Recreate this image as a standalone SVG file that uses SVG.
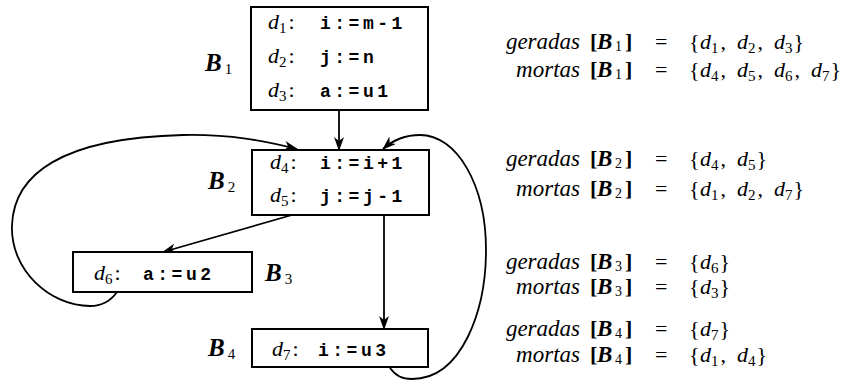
<svg xmlns="http://www.w3.org/2000/svg" width="850" height="384" viewBox="0 0 850 384">
<style>
.box{fill:#fff;stroke:#000;stroke-width:2}
.edge{fill:none;stroke:#000;stroke-width:1.8}
text{font-family:"Liberation Serif","Times New Roman",serif;fill:#000}
.it{font-style:italic;font-size:22px}
.nm{font-style:italic;font-size:23px}
.bi{font-style:italic;font-weight:bold;font-size:25px}
.bs{font-style:italic;font-weight:bold;font-size:23px}
.rm{font-style:normal;font-weight:normal;font-size:22px}
.sub{font-style:normal;font-weight:normal;font-size:15px}
.ss{font-style:normal;font-weight:normal;font-size:14px}
.bk{font-style:normal;font-weight:bold;font-size:22px}
.mono{font-family:"Liberation Mono","Courier New",monospace;font-weight:bold;font-size:18px;letter-spacing:3.5px}
</style>
<defs>
<marker id="ah" viewBox="0 0 14 10" refX="13" refY="5" markerWidth="14" markerHeight="10" markerUnits="userSpaceOnUse" orient="auto">
<path d="M0,0 L14,5 L0,10 L4,5 z" fill="#000"/>
</marker>
</defs>

<g id="connectors">
<path class="edge" d="M339,110 L339,150" marker-end="url(#ah)"/>
<path class="edge" d="M292,215 L163,252" marker-end="url(#ah)"/>
<path class="edge" d="M384,215 L384,329" marker-end="url(#ah)"/>
<path class="edge" d="M117,292 C110,302 100,306 90,306 C50,306 10,270 12,225 C14,175 60,138 183,135 C230,134 265,141 297,149" marker-end="url(#ah)"/>
<path class="edge" d="M390,368 C396,376 402,379 412,379 C462,379 486,310 486,250 C486,185 457,135 420,135 C405,135 393,140 383,149" marker-end="url(#ah)"/>
</g>

<g id="B1">
<rect class="box" x="251" y="7" width="177" height="103"/>
<text class="bi" x="205" y="71">B<tspan class="sub" dx="3" dy="3">1</tspan></text>
<text class="it" x="268" y="29">d<tspan class="sub" dy="4">1</tspan><tspan class="rm" dy="-4" dx="2">:</tspan></text>
<text class="mono" x="320" y="29">i:=m-1</text>
<text class="it" x="268" y="63">d<tspan class="sub" dy="4">2</tspan><tspan class="rm" dy="-4" dx="2">:</tspan></text>
<text class="mono" x="320" y="63">j:=n</text>
<text class="it" x="268" y="97">d<tspan class="sub" dy="4">3</tspan><tspan class="rm" dy="-4" dx="2">:</tspan></text>
<text class="mono" x="320" y="97">a:=u1</text>
</g>

<g id="B2">
<rect class="box" x="252" y="150" width="177" height="65"/>
<text class="bi" x="208" y="189">B<tspan class="sub" dx="3" dy="3">2</tspan></text>
<text class="it" x="270" y="169">d<tspan class="sub" dy="4">4</tspan><tspan class="rm" dy="-4" dx="2">:</tspan></text>
<text class="mono" x="320" y="169">i:=i+1</text>
<text class="it" x="270" y="202">d<tspan class="sub" dy="4">5</tspan><tspan class="rm" dy="-4" dx="2">:</tspan></text>
<text class="mono" x="320" y="202">j:=j-1</text>
</g>

<g id="B3">
<rect class="box" x="73" y="252" width="179" height="40"/>
<text class="bi" x="265" y="281">B<tspan class="sub" dx="3" dy="3">3</tspan></text>
<text class="it" x="94" y="280">d<tspan class="sub" dy="4">6</tspan><tspan class="rm" dy="-4" dx="2">:</tspan></text>
<text class="mono" x="143" y="280">a:=u2</text>
</g>

<g id="B4">
<rect class="box" x="252" y="329" width="176" height="38"/>
<text class="bi" x="208" y="356">B<tspan class="sub" dx="3" dy="3">4</tspan></text>
<text class="it" x="272" y="356">d<tspan class="sub" dy="4">7</tspan><tspan class="rm" dy="-4" dx="2">:</tspan></text>
<text class="mono" x="318" y="356">i:=u3</text>
</g>

<g id="sets">
<text class="nm" x="580" y="49" text-anchor="end">geradas</text>
<text class="rm" y="49"><tspan class="bk" x="590">[</tspan><tspan class="bs" x="597">B</tspan><tspan class="ss" x="615" dy="2">1</tspan><tspan class="bk" x="625" dy="-2">]</tspan><tspan x="655">=</tspan><tspan x="689">{</tspan><tspan class="it" x="700">d</tspan><tspan class="sub" dy="4">1</tspan><tspan dy="-4" dx="2">,</tspan><tspan class="it" x="737">d</tspan><tspan class="sub" dy="4">2</tspan><tspan dy="-4" dx="2">,</tspan><tspan class="it" x="774">d</tspan><tspan class="sub" dy="4">3</tspan><tspan dy="-4" dx="1">}</tspan></text>

<text class="nm" x="580" y="77" text-anchor="end">mortas</text>
<text class="rm" y="77"><tspan class="bk" x="590">[</tspan><tspan class="bs" x="597">B</tspan><tspan class="ss" x="615" dy="2">1</tspan><tspan class="bk" x="625" dy="-2">]</tspan><tspan x="655">=</tspan><tspan x="689">{</tspan><tspan class="it" x="700">d</tspan><tspan class="sub" dy="4">4</tspan><tspan dy="-4" dx="2">,</tspan><tspan class="it" x="737">d</tspan><tspan class="sub" dy="4">5</tspan><tspan dy="-4" dx="2">,</tspan><tspan class="it" x="774">d</tspan><tspan class="sub" dy="4">6</tspan><tspan dy="-4" dx="2">,</tspan><tspan class="it" x="811">d</tspan><tspan class="sub" dy="4">7</tspan><tspan dy="-4" dx="1">}</tspan></text>

<text class="nm" x="580" y="166" text-anchor="end">geradas</text>
<text class="rm" y="166"><tspan class="bk" x="590">[</tspan><tspan class="bs" x="597">B</tspan><tspan class="ss" x="615" dy="2">2</tspan><tspan class="bk" x="625" dy="-2">]</tspan><tspan x="655">=</tspan><tspan x="689">{</tspan><tspan class="it" x="700">d</tspan><tspan class="sub" dy="4">4</tspan><tspan dy="-4" dx="2">,</tspan><tspan class="it" x="737">d</tspan><tspan class="sub" dy="4">5</tspan><tspan dy="-4" dx="1">}</tspan></text>

<text class="nm" x="580" y="196" text-anchor="end">mortas</text>
<text class="rm" y="196"><tspan class="bk" x="590">[</tspan><tspan class="bs" x="597">B</tspan><tspan class="ss" x="615" dy="2">2</tspan><tspan class="bk" x="625" dy="-2">]</tspan><tspan x="655">=</tspan><tspan x="689">{</tspan><tspan class="it" x="700">d</tspan><tspan class="sub" dy="4">1</tspan><tspan dy="-4" dx="2">,</tspan><tspan class="it" x="737">d</tspan><tspan class="sub" dy="4">2</tspan><tspan dy="-4" dx="2">,</tspan><tspan class="it" x="774">d</tspan><tspan class="sub" dy="4">7</tspan><tspan dy="-4" dx="1">}</tspan></text>

<text class="nm" x="580" y="269" text-anchor="end">geradas</text>
<text class="rm" y="269"><tspan class="bk" x="590">[</tspan><tspan class="bs" x="597">B</tspan><tspan class="ss" x="615" dy="2">3</tspan><tspan class="bk" x="625" dy="-2">]</tspan><tspan x="655">=</tspan><tspan x="689">{</tspan><tspan class="it" x="700">d</tspan><tspan class="sub" dy="4">6</tspan><tspan dy="-4" dx="1">}</tspan></text>

<text class="nm" x="580" y="294" text-anchor="end">mortas</text>
<text class="rm" y="294"><tspan class="bk" x="590">[</tspan><tspan class="bs" x="597">B</tspan><tspan class="ss" x="615" dy="2">3</tspan><tspan class="bk" x="625" dy="-2">]</tspan><tspan x="655">=</tspan><tspan x="689">{</tspan><tspan class="it" x="700">d</tspan><tspan class="sub" dy="4">3</tspan><tspan dy="-4" dx="1">}</tspan></text>

<text class="nm" x="580" y="336" text-anchor="end">geradas</text>
<text class="rm" y="336"><tspan class="bk" x="590">[</tspan><tspan class="bs" x="597">B</tspan><tspan class="ss" x="615" dy="2">4</tspan><tspan class="bk" x="625" dy="-2">]</tspan><tspan x="655">=</tspan><tspan x="689">{</tspan><tspan class="it" x="700">d</tspan><tspan class="sub" dy="4">7</tspan><tspan dy="-4" dx="1">}</tspan></text>

<text class="nm" x="580" y="362" text-anchor="end">mortas</text>
<text class="rm" y="362"><tspan class="bk" x="590">[</tspan><tspan class="bs" x="597">B</tspan><tspan class="ss" x="615" dy="2">4</tspan><tspan class="bk" x="625" dy="-2">]</tspan><tspan x="655">=</tspan><tspan x="689">{</tspan><tspan class="it" x="700">d</tspan><tspan class="sub" dy="4">1</tspan><tspan dy="-4" dx="2">,</tspan><tspan class="it" x="737">d</tspan><tspan class="sub" dy="4">4</tspan><tspan dy="-4" dx="1">}</tspan></text>
</g>
</svg>
